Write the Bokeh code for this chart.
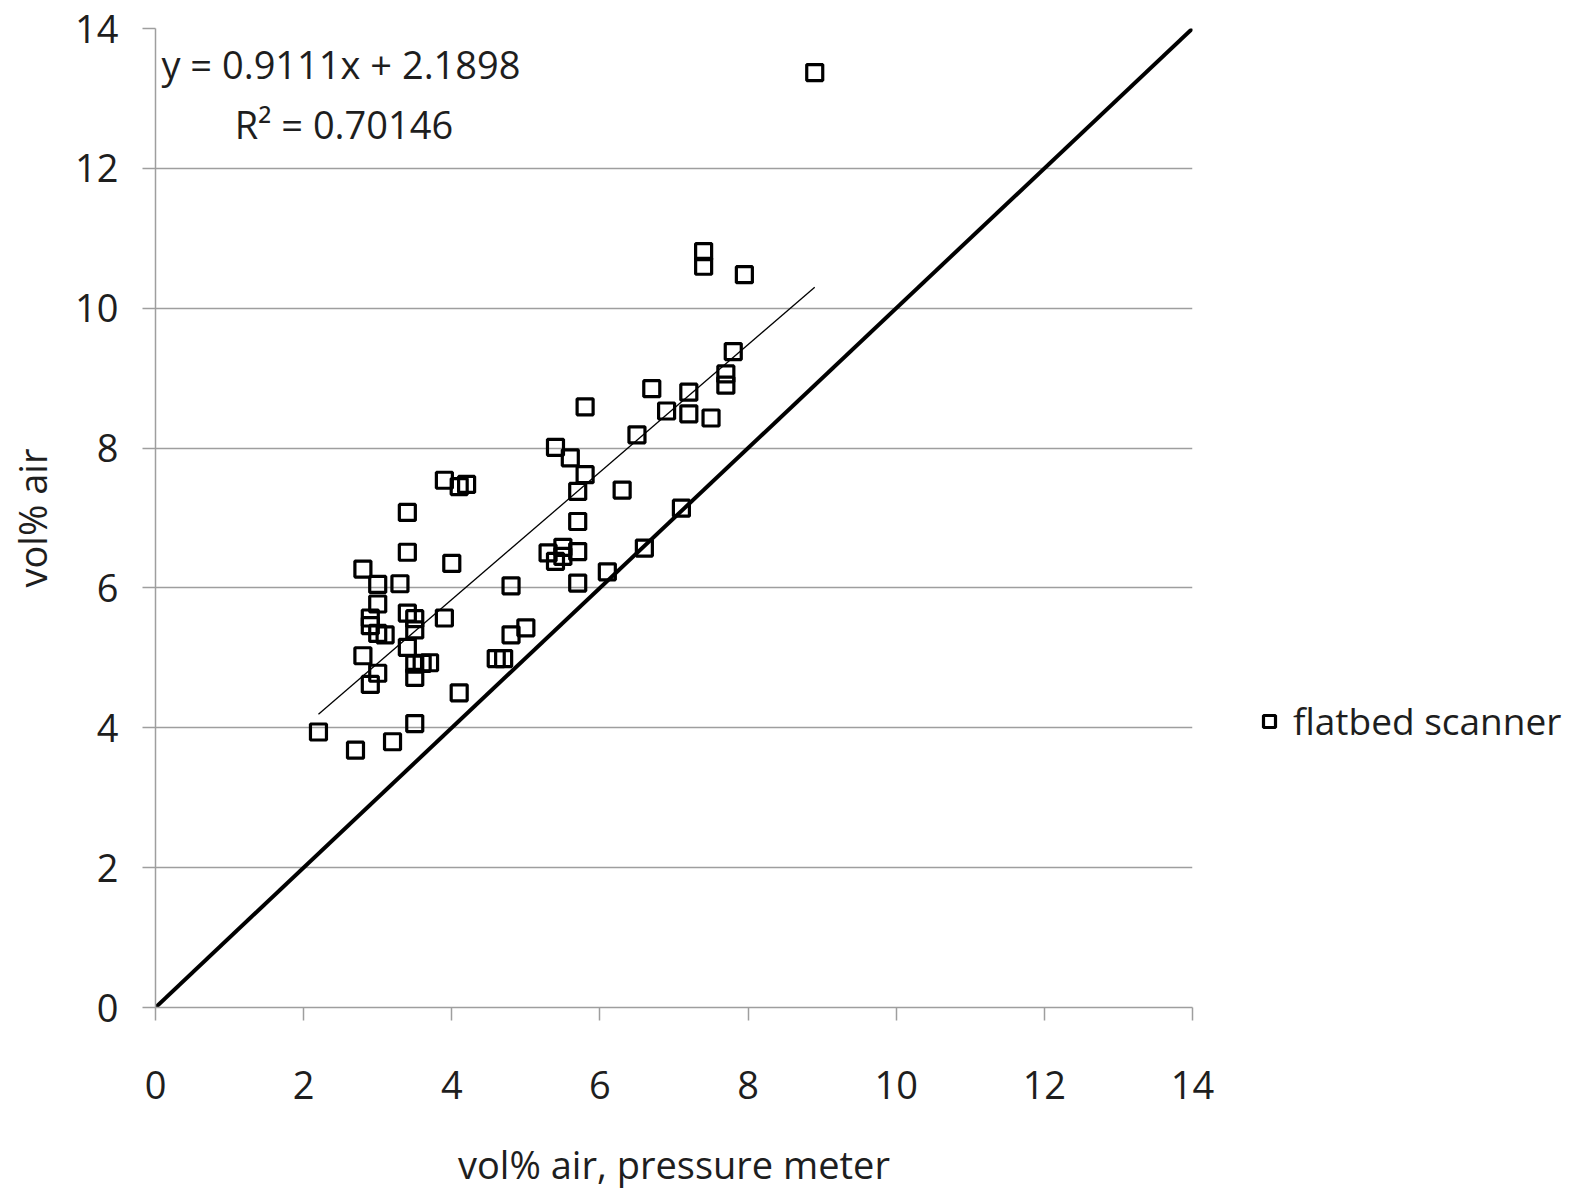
from bokeh.plotting import figure
from bokeh.layouts import row
from bokeh.models import Range1d, Legend, LegendItem, Label, FixedTicker
from bokeh.embed import file_html
from bokeh.resources import INLINE

# Air content: pressure meter reading vs. flatbed scanner estimate (vol%)
pressure_meter = [8.9, 7.4, 7.4, 7.95, 7.8, 7.7, 7.7, 6.7, 7.2, 7.2, 6.9, 7.5, 5.8, 6.5,
                  5.4, 5.6, 5.8, 5.7, 6.3, 3.9, 4.1, 4.2, 3.4, 5.7, 7.1, 3.4, 4.0, 5.3,
                  5.4, 5.5, 5.5, 5.7, 6.6, 2.8, 3.3, 3.0, 4.8, 5.7, 6.1, 3.0, 2.9, 2.9,
                  3.4, 3.5, 3.9, 3.0, 3.1, 3.5, 5.0, 4.8, 3.4, 2.8, 4.6, 4.7, 3.5, 3.6,
                  3.7, 3.0, 3.5, 2.9, 4.1, 2.2, 3.5, 2.7, 3.2]
flatbed_scanner = [13.37, 10.81, 10.60, 10.48, 9.38, 9.06, 8.90, 8.85, 8.80, 8.49, 8.53,
                   8.43, 8.59, 8.19, 8.01, 7.86, 7.62, 7.38, 7.40, 7.54, 7.45, 7.48, 7.08,
                   6.95, 7.14, 6.51, 6.35, 6.50, 6.38, 6.58, 6.45, 6.52, 6.57, 6.27, 6.06,
                   6.05, 6.03, 6.07, 6.23, 5.77, 5.57, 5.46, 5.64, 5.56, 5.57, 5.35, 5.33,
                   5.40, 5.43, 5.33, 5.15, 5.03, 4.99, 4.99, 4.91, 4.92, 4.93, 4.78, 4.72,
                   4.62, 4.50, 3.94, 4.06, 3.68, 3.80]

# Linear trend reported for the scanner series
fit_slope = 0.9111
fit_intercept = 2.1898
r_squared = 0.70146

axis_ticks = [0, 2, 4, 6, 8, 10, 12, 14]
series_name = "flatbed scanner"

FONT = "Open Sans"
TEXT_COLOR = "#1e1e1e"
GRID_COLOR = "#9e9e9e"
MARKER = dict(marker="square", size=16, fill_color="white", fill_alpha=0,
              line_color="black", line_width=3.2)

p = figure(width=1222, height=1192, output_backend="svg", toolbar_location=None,
           x_range=Range1d(axis_ticks[0], axis_ticks[-1]),
           y_range=Range1d(axis_ticks[0], axis_ticks[-1]),
           min_border_left=155, min_border_right=30,
           min_border_top=28, min_border_bottom=183)
p.outline_line_color = None
p.background_fill_color = "white"
p.border_fill_color = "white"

# axes
for ax in (p.xaxis, p.yaxis):
    ax.ticker = FixedTicker(ticks=axis_ticks)
    ax.minor_tick_line_color = None
    ax.axis_line_color = GRID_COLOR
    ax.axis_line_width = 1.5
    ax.major_tick_line_color = GRID_COLOR
    ax.major_tick_line_width = 1.5
    ax.major_tick_in = 0
    ax.major_tick_out = 13
    ax.major_label_text_font = FONT
    ax.major_label_text_font_size = "38px"
    ax.major_label_text_color = TEXT_COLOR
    ax.axis_label_text_font = FONT
    ax.axis_label_text_font_size = "38px"
    ax.axis_label_text_font_style = "normal"
    ax.axis_label_text_color = TEXT_COLOR

p.xaxis.axis_label = "vol% air, pressure meter"
p.yaxis.axis_label = "vol% air"
p.xaxis.major_label_standoff = 50
p.yaxis.major_label_standoff = 24
p.xaxis.axis_label_standoff = 36
p.yaxis.axis_label_standoff = 14

p.xgrid.visible = False
p.ygrid.ticker = FixedTicker(ticks=axis_ticks)
p.ygrid.grid_line_color = GRID_COLOR
p.ygrid.grid_line_width = 1.5

# 1:1 line
p.line([axis_ticks[0], axis_ticks[-1]], [axis_ticks[0], axis_ticks[-1]],
       line_color="black", line_width=4)

# linear trend over the measured range
x_lo, x_hi = min(pressure_meter), max(pressure_meter)
p.line([x_lo, x_hi], [fit_slope * x_lo + fit_intercept, fit_slope * x_hi + fit_intercept],
       line_color="black", line_width=1.3)

p.scatter(pressure_meter, flatbed_scanner, **MARKER)

# trend equation
p.add_layout(Label(x=0.08, y=13.49, text=f"y = {fit_slope}x + {fit_intercept}",
                   text_font=FONT, text_font_size="38px", text_color=TEXT_COLOR,
                   text_baseline="middle", text_align="left"))
p.add_layout(Label(x=1.07, y=12.64, text=f"R\u00b2 = {r_squared}",
                   text_font=FONT, text_font_size="38px", text_color=TEXT_COLOR,
                   text_baseline="middle", text_align="left"))

# legend panel to the right of the plot area; its key renderer sits outside
# its own (unit) ranges so only the legend swatch shows
lg = figure(width=354, height=1192, output_backend="svg", toolbar_location=None,
            x_range=Range1d(0, 1), y_range=Range1d(0, 1),
            min_border=0, outline_line_color=None)
lg.axis.visible = False
lg.grid.visible = False
lg.background_fill_color = "white"
lg.border_fill_color = "white"
key = lg.scatter(pressure_meter[:1], flatbed_scanner[:1], **MARKER)

legend = Legend(items=[LegendItem(label=series_name, renderers=[key])],
                location=(32, 261), orientation="vertical",
                label_text_font=FONT, label_text_font_size="37px",
                label_text_color=TEXT_COLOR, label_standoff=9,
                glyph_width=30, glyph_height=48, label_height=48,
                padding=0, margin=0, spacing=0,
                border_line_color=None, background_fill_alpha=0)
lg.add_layout(legend, "center")

open("out.html", "w").write(file_html(row(p, lg), INLINE))
